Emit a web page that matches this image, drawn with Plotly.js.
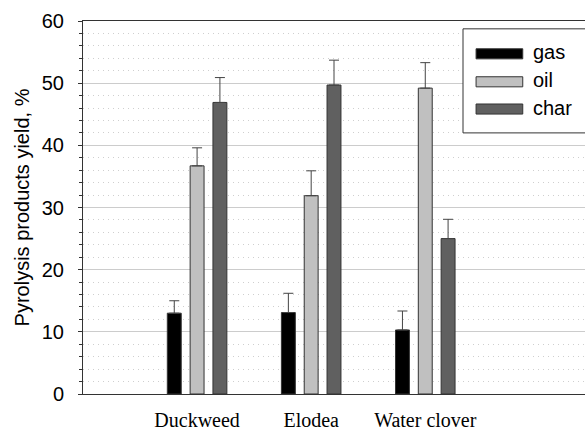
<!DOCTYPE html>
<html>
<head>
<meta charset="utf-8">
<script src="https://cdn.plot.ly/plotly-3.0.1.min.js"></script>
<style>html,body{margin:0;padding:0;background:#fff;}#chart{width:585px;height:432px;}</style>
</head>
<body>
<div id="chart"></div>
<script>
const categories = ["Duckweed", "Elodea", "Water clover"];
const seriesNames = ["gas", "oil", "char"];
const gasValues = [13.0, 13.1, 10.3];
const oilValues = [36.7, 31.9, 49.2];
const charValues = [46.9, 49.7, 25.0];
const gasErrors = [2.0, 3.1, 3.05];
const oilErrors = [2.9, 4.0, 4.1];
const charErrors = [4.0, 4.0, 3.1];
const yTickValues = [0, 10, 20, 30, 40, 50, 60];

const fills = ["#000000", "#c0c0c0", "#606060"];
const values = [gasValues, oilValues, charValues];
const errors = [gasErrors, oilErrors, charErrors];

const traces = seriesNames.map((name, i) => ({
  type: "bar",
  name: name,
  x: categories,
  y: values[i],
  marker: {color: fills[i], line: {color: "#333333", width: 1}},
  error_y: {type: "data", symmetric: false, array: errors[i], arrayminus: errors[i].map(() => 0),
            color: "#444444", thickness: 1, width: 5},
  showlegend: false
}));

// manual legend (box, swatches, labels)
const shapes = [{
  type: "rect", xref: "paper", yref: "paper",
  x0: 0.757, x1: 1.02, y0: 0.700, y1: 0.979,
  line: {color: "#333333", width: 1}, fillcolor: "#ffffff", layer: "above"
}];
const annotations = [];
const legendCenters = [0.912, 0.837, 0.764];
seriesNames.forEach((name, i) => {
  shapes.push({
    type: "rect", xref: "paper", yref: "paper",
    x0: 0.783, x1: 0.876, y0: legendCenters[i] - 0.0135, y1: legendCenters[i] + 0.0135,
    line: {color: "#333333", width: 1}, fillcolor: fills[i], layer: "above"
  });
  annotations.push({
    xref: "paper", yref: "paper", x: 0.893, y: legendCenters[i] + 0.004,
    xanchor: "left", yanchor: "middle", text: name, showarrow: false,
    font: {family: "Liberation Sans, Arial, sans-serif", size: 20, color: "#000"}
  });
});

const layout = {
  width: 585, height: 432,
  margin: {l: 83, r: 0, t: 21, b: 38},
  paper_bgcolor: "#ffffff", plot_bgcolor: "#ffffff",
  barmode: "group", bargap: 0.4, bargroupgap: 0.39,
  showlegend: false,
  xaxis: {
    type: "category", range: [-1, 3.4],
    showline: true, linecolor: "#333333", linewidth: 1, mirror: true,
    ticks: "", showgrid: false, zeroline: false,
    ticklabelstandoff: 8,
    tickfont: {family: "Liberation Serif, Times New Roman, serif", size: 20, color: "#000"}
  },
  yaxis: {
    range: [0, 60], tickvals: yTickValues,
    showline: true, linecolor: "#333333", linewidth: 1,
    ticks: "outside", ticklen: 4, tickcolor: "#333333",
    ticklabelstandoff: 10,
    showgrid: true, gridcolor: "#cccccc", gridwidth: 1, zeroline: false,
    minor: {dtick: 2, showgrid: true, gridcolor: "#cfcfcf", griddash: "1px,4px", gridwidth: 1,
            ticks: "outside", ticklen: 3, tickcolor: "#333333"},
    tickfont: {family: "Liberation Sans, Arial, sans-serif", size: 20, color: "#000"},
    title: {text: "Pyrolysis products yield, %", standoff: 6,
            font: {family: "Liberation Sans, Arial, sans-serif", size: 20, color: "#000"}}
  },
  shapes: shapes,
  annotations: annotations
};

Plotly.newPlot("chart", traces, layout, {displayModeBar: false, staticPlot: true});
</script>
</body>
</html>
